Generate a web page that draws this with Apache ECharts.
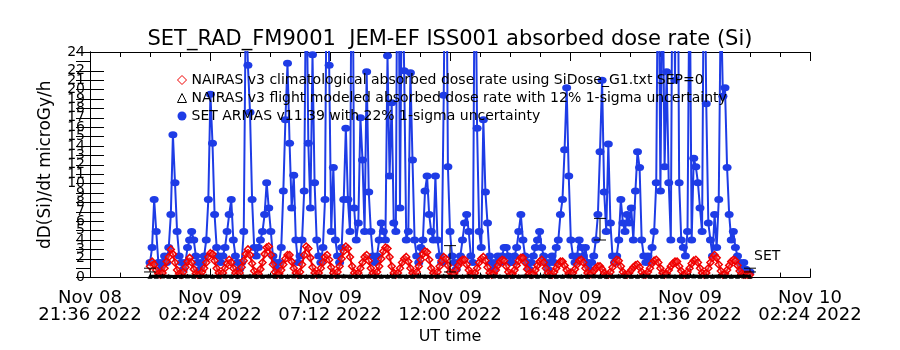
<!DOCTYPE html>
<html>
<head>
<meta charset="utf-8">
<script src="https://cdn.jsdelivr.net/npm/echarts@6/dist/echarts.min.js"></script>
<style>
  html, body { margin: 0; padding: 0; background: #fff; }
  #chart { width: 900px; height: 350px; }
</style>
</head>
<body>
<div id="chart"></div>
<script>
// time axis is in minutes counted from Nov 08 2022 21:36 UT
var axisStartUtc = Date.UTC(2022, 10, 8, 21, 36);
var axisMinMinutes = 0;
var axisMaxMinutes = 1728;
var majorStepMinutes = 288;

// samples start Nov 09 00:00 UT
var sampleStart = 144;
var sampleStep = 5;
var blackStep = 15;

var seriesNames = [
  "NAIRAS v3 climatological absorbed dose rate using SiDose_G1.txt SEP=0",
  "NAIRAS v3 flight modeled absorbed dose rate with 12% 1-sigma uncertainty",
  "SET ARMAS v11.39 with 22% 1-sigma uncertainty"
];

// SET ARMAS, microGy/h, one value every 5 min (values > 24 run off the top)
var armasValues = [
  1.6, 3.2, 8.3, 4.9, 1.6, 0.9, 1.6, 2.3, 1.6, 3.2, 6.7, 15.2,
  10.1, 4.9, 2.3, 1.6, 0.9, 1.6, 3.2, 4.0, 4.9, 4.0, 2.3, 1.6,
  0.9, 1.6, 2.3, 4.0, 8.3, 19.5, 14.3, 6.7, 3.2, 2.3, 1.6, 2.3,
  3.2, 4.9, 6.7, 8.3, 4.0, 2.3, 1.6, 0.9, 1.6, 4.9, 30, 22.6,
  17.6, 8.3, 3.2, 2.3, 3.2, 4.0, 4.9, 6.7, 10.1, 7.4, 4.9, 2.3,
  1.6, 0.9, 1.6, 3.2, 9.2, 16.8, 22.8, 14.3, 7.4, 10.9, 4.0, 1.6,
  2.3, 4.0, 9.2, 35, 14.3, 7.4, 23.7, 10.1, 4.0, 2.3, 1.6, 3.2,
  8.3, 40, 22.6, 4.9, 11.7, 4.0, 2.3, 1.6, 3.2, 8.3, 15.9, 8.3,
  4.9, 45, 7.4, 4.0, 5.8, 17.0, 12.5, 4.9, 21.9, 9.1, 4.9, 2.3,
  1.6, 2.3, 4.0, 5.8, 4.9, 4.0, 23.6, 10.8, 18.6, 5.8, 4.9, 50,
  7.4, 35, 22.0, 4.0, 4.9, 21.8, 12.5, 4.0, 2.3, 1.6, 3.2, 4.0,
  9.2, 10.8, 6.7, 4.9, 4.0, 10.8, 4.0, 2.3, 1.6, 19.4, 45, 11.8,
  4.9, 2.3, 1.6, 0.9, 1.6, 2.3, 4.0, 5.8, 6.7, 4.9, 2.3, 1.6,
  40, 15.9, 4.9, 3.2, 16.8, 9.1, 5.8, 2.3, 1.6, 0.9, 1.6, 2.3,
  1.6, 2.3, 3.2, 3.2, 2.3, 1.6, 1.6, 2.3, 3.2, 4.9, 6.7, 4.0,
  2.3, 1.6, 0.9, 1.6, 2.3, 3.2, 4.0, 4.9, 3.2, 2.3, 1.6, 0.9,
  1.6, 2.3, 1.6, 3.2, 4.0, 6.7, 8.3, 13.6, 20.2, 10.8, 4.0, 2.3,
  1.6, 2.3, 4.0, 3.2, 2.3, 3.2, 1.6, 0.9, 1.6, 2.3, 4.0, 6.7,
  13.4, 21.0, 9.1, 4.9, 14.2, 5.8, 2.3, 1.6, 2.3, 4.0, 8.3, 5.8,
  4.9, 6.7, 5.8, 7.4, 4.0, 9.2, 13.4, 11.7, 4.0, 2.3, 1.6, 2.3,
  1.6, 3.2, 4.9, 10.1, 40, 9.2, 35, 11.8, 21.9, 10.1, 4.0, 45,
  21.0, 50, 10.1, 4.0, 3.2, 2.3, 4.9, 35, 4.0, 12.7, 11.8, 10.1,
  7.4, 4.9, 40, 18.5, 5.8, 4.0, 2.3, 6.7, 3.2, 8.3, 30, 19.3,
  20.2, 11.7, 6.7, 4.0, 4.9, 3.2, 2.3, 1.6, 0.9, 1.6, 0.9, 0.6,
  0.6
];

// NAIRAS climatological, one value every 5 min
var climValues = [
  1.2, 1.7, 1.4, 0.8, 0.4, 0.3, 0.5, 1.0, 1.7, 2.2, 3.0, 2.5,
  1.6, 0.8, 0.4, 0.3, 0.6, 1.1, 1.7, 2.1, 1.6, 0.9, 0.4, 0.3,
  0.3, 0.6, 1.0, 1.6, 2.2, 2.6, 2.5, 1.8, 1.0, 0.5, 0.3, 0.5,
  1.0, 1.5, 1.9, 1.6, 1.0, 0.5, 0.3, 0.5, 1.1, 1.8, 2.5, 3.0,
  2.4, 1.5, 0.7, 0.3, 0.4, 0.9, 1.6, 2.5, 3.2, 3.3, 2.4, 1.4,
  0.6, 0.3, 0.4, 0.8, 1.4, 2.0, 2.4, 2.4, 1.7, 1.0, 0.5, 0.3,
  0.6, 1.4, 2.4, 3.3, 3.1, 2.1, 1.1, 0.5, 0.3, 0.5, 1.0, 1.6,
  2.2, 2.4, 1.9, 1.1, 0.5, 0.3, 0.6, 1.2, 2.0, 2.8, 3.3, 3.1,
  2.2, 1.2, 0.5, 0.3, 0.5, 1.0, 1.6, 2.2, 2.4, 1.8, 1.0, 0.5,
  0.3, 0.6, 1.2, 2.0, 2.8, 3.2, 3.1, 2.2, 1.2, 0.5, 0.3, 0.5,
  1.0, 1.6, 2.0, 2.2, 1.7, 1.0, 0.5, 0.3, 0.6, 1.2, 1.9, 2.5,
  2.8, 2.7, 1.9, 1.0, 0.5, 0.3, 0.6, 1.2, 1.8, 2.2, 2.0, 1.3,
  0.6, 0.3, 0.4, 0.8, 1.3, 1.7, 1.9, 1.9, 1.4, 0.8, 0.4, 0.3,
  0.5, 1.0, 1.6, 2.0, 2.2, 1.8, 1.1, 0.5, 0.3, 0.4, 0.8, 1.3,
  1.7, 1.9, 1.8, 1.2, 0.6, 0.3, 0.4, 0.8, 1.3, 1.8, 2.1, 2.1,
  1.6, 0.9, 0.4, 0.3, 0.4, 0.8, 1.3, 1.7, 1.9, 1.6, 1.0, 0.5,
  0.3, 0.3, 0.6, 1.0, 1.4, 1.7, 1.7, 1.3, 0.8, 0.4, 0.3, 0.5,
  0.9, 1.4, 1.8, 1.9, 1.6, 1.0, 0.5, 0.3, 0.4, 0.7, 1.0, 1.2,
  1.2, 0.9, 0.5, 0.3, 0.3, 0.6, 1.1, 1.6, 1.9, 1.8, 1.2, 0.6,
  0.3, 0.3, 0.5, 0.8, 1.1, 1.3, 1.4, 1.1, 0.6, 0.3, 0.3, 0.6,
  1.0, 1.5, 1.8, 1.9, 1.6, 1.0, 0.5, 0.3, 0.4, 0.8, 1.2, 1.5,
  1.7, 1.7, 1.2, 0.7, 0.3, 0.3, 0.6, 1.0, 1.5, 1.8, 1.9, 1.6,
  1.0, 0.5, 0.3, 0.5, 1.0, 1.6, 2.1, 2.4, 2.1, 1.4, 0.7, 0.3,
  0.4, 0.8, 1.3, 1.7, 1.9, 1.8, 1.3, 0.7, 0.4, 0.3, 0.3, 0.3,
  0.3
];

// NAIRAS flight modeled, one value every 15 min
var flightValues = [
  0.15, 0.14, 0.16, 0.15, 0.13, 0.15, 0.16, 0.14, 0.15, 0.17, 0.15, 0.14,
  0.16, 0.15, 0.14, 0.15, 0.16, 0.15, 0.14, 0.16, 0.15, 0.15, 0.14, 0.16,
  0.15, 0.14, 0.15, 0.16, 0.15, 0.14, 0.15, 0.16, 0.15, 0.14, 0.15, 0.16,
  0.15, 0.14, 0.15, 0.15, 0.16, 0.14, 0.15, 0.16, 0.15, 0.14, 0.15, 0.16,
  0.15, 0.14, 0.15, 0.16, 0.15, 0.14, 0.15, 0.16, 0.15, 0.14, 0.15, 0.15,
  0.16, 0.14, 0.15, 0.16, 0.15, 0.14, 0.15, 0.16, 0.15, 0.14, 0.15, 0.16,
  0.15, 0.14, 0.15, 0.16, 0.15, 0.14, 0.15, 0.16, 0.15, 0.14, 0.15, 0.16,
  0.15, 0.14, 0.15, 0.16, 0.15, 0.14, 0.15, 0.16, 0.15, 0.14, 0.15, 0.16,
  0.15
];

// [minute, low, high] uncertainty bars
var errorBars = [
  [144, 0.6, 1.0],
  [864, 0.6, 3.4],
  [1224, 4.0, 6.3],
  [1584, 0.6, 1.0]
];

var monthNames = ["Jan", "Feb", "Mar", "Apr", "May", "Jun", "Jul", "Aug", "Sep", "Oct", "Nov", "Dec"];

function pad(n) {
  return (n < 10 ? "0" : "") + n;
}

function timeLabel(minutes) {
  var d = new Date(axisStartUtc + minutes * 60000);
  return monthNames[d.getUTCMonth()] + " " + pad(d.getUTCDate()) + "\n" +
    pad(d.getUTCHours()) + ":" + pad(d.getUTCMinutes()) + " " + d.getUTCFullYear();
}

function toPairs(values, start, step) {
  return values.map(function (v, i) {
    return [start + i * step, v];
  });
}

var font = "DejaVu Sans";
var blue = "#1e3ce6";
var red = "#f00000";
var chart = echarts.init(document.getElementById("chart"));

var xAxisBase = {
  type: "value",
  min: axisMinMinutes,
  max: axisMaxMinutes,
  interval: majorStepMinutes,
  splitLine: { show: false },
  axisLine: { show: true, onZero: false, lineStyle: { color: "#000", width: 1 } },
  axisTick: { show: true, inside: true, length: 9, lineStyle: { color: "#000" } },
  minorTick: { show: true, splitNumber: 4, length: 5, lineStyle: { color: "#000" } }
};

var yAxisBase = {
  type: "value",
  min: 0,
  max: 24,
  interval: 1,
  splitLine: { show: false },
  axisLine: { show: true, lineStyle: { color: "#000", width: 1 } },
  axisTick: { show: true, inside: true, length: 14, lineStyle: { color: "#000" } }
};

var option = {
  animation: false,
  backgroundColor: "#fff",
  textStyle: { fontFamily: font },
  title: {
    text: "SET_RAD_FM9001  JEM-EF ISS001 absorbed dose rate (Si)",
    left: "center",
    top: 24,
    textStyle: { fontFamily: font, fontSize: 21, fontWeight: "normal", color: "#000" }
  },
  grid: { left: 90, right: 90, top: 52, bottom: 72 },
  legend: {
    orient: "vertical",
    left: 172,
    top: 68,
    itemWidth: 9,
    itemHeight: 9,
    itemGap: 4,
    selectedMode: false,
    textStyle: { fontFamily: font, fontSize: 14, color: "#000" },
    data: [
      { name: seriesNames[0], icon: "diamond", itemStyle: { color: "transparent", borderColor: red, borderWidth: 1 } },
      { name: seriesNames[1], icon: "triangle", itemStyle: { color: "transparent", borderColor: "#000", borderWidth: 1 } },
      { name: seriesNames[2], icon: "circle", itemStyle: { color: blue } }
    ]
  },
  xAxis: [
    Object.assign({}, xAxisBase, {
      position: "bottom",
      name: "UT time",
      nameLocation: "middle",
      nameGap: 48,
      nameTextStyle: { fontFamily: font, fontSize: 16, color: "#000" },
      axisLabel: {
        color: "#000",
        fontFamily: font,
        fontSize: 18,
        lineHeight: 17,
        margin: 12,
        formatter: timeLabel
      }
    }),
    Object.assign({}, xAxisBase, {
      position: "top",
      axisLabel: { show: false }
    })
  ],
  yAxis: [
    Object.assign({}, yAxisBase, {
      position: "left",
      name: "dD(Si)/dt microGy/h",
      nameLocation: "middle",
      nameGap: 36,
      nameTextStyle: { fontFamily: font, fontSize: 17, color: "#000" },
      axisLabel: {
        color: "#000",
        fontFamily: font,
        fontSize: 14,
        margin: 5,
        showMinLabel: true,
        showMaxLabel: true,
        hideOverlap: false
      }
    }),
    Object.assign({}, yAxisBase, {
      position: "right",
      axisLabel: { show: false }
    })
  ],
  graphic: [
    {
      type: "text",
      left: 754,
      top: 249,
      style: { text: "SET", font: "14px " + font, fill: "#000" }
    }
  ],
  series: [
    {
      name: seriesNames[2],
      type: "line",
      data: toPairs(armasValues, sampleStart, sampleStep),
      symbol: "circle",
      symbolSize: [9, 7],
      lineStyle: { color: blue, width: 2 },
      itemStyle: { color: blue },
      z: 2
    },
    {
      name: seriesNames[0],
      type: "line",
      data: toPairs(climValues, sampleStart, sampleStep),
      symbol: "diamond",
      symbolSize: 7,
      lineStyle: { color: red, width: 2 },
      itemStyle: { color: "rgba(255,255,255,0.15)", borderColor: red, borderWidth: 1.5 },
      z: 3
    },
    {
      name: seriesNames[1],
      type: "line",
      data: toPairs(flightValues, sampleStart, blackStep),
      symbol: "triangle",
      symbolSize: 5,
      lineStyle: { color: "#000", width: 3 },
      itemStyle: { color: "#000" },
      z: 4
    },
    {
      type: "custom",
      data: errorBars,
      encode: { x: 0, y: [1, 2] },
      z: 5,
      renderItem: function (params, api) {
        var low = api.coord([api.value(0), api.value(1)]);
        var high = api.coord([api.value(0), api.value(2)]);
        var w = 6;
        var style = { stroke: "#000", lineWidth: 1 };
        return {
          type: "group",
          children: [
            { type: "line", shape: { x1: low[0], y1: low[1], x2: high[0], y2: high[1] }, style: style },
            { type: "line", shape: { x1: low[0] - w, y1: low[1], x2: low[0] + w, y2: low[1] }, style: style },
            { type: "line", shape: { x1: high[0] - w, y1: high[1], x2: high[0] + w, y2: high[1] }, style: style }
          ]
        };
      }
    }
  ]
};

chart.setOption(option);
</script>
</body>
</html>
